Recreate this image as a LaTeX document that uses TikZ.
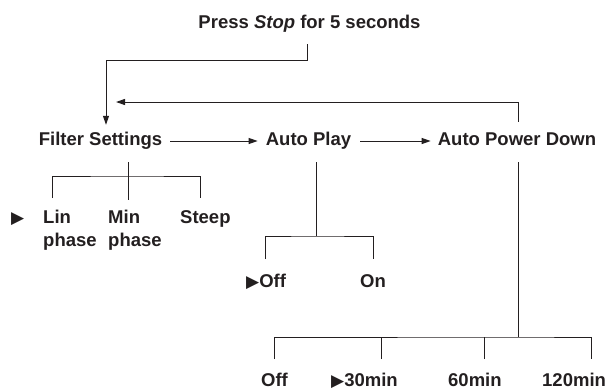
\documentclass[tikz,border=0pt]{standalone}
\usepackage{fontspec}
\setmainfont{Liberation Sans}
\newfontfamily\symfont{DejaVu Sans}
\usetikzlibrary{arrows.meta}
\definecolor{ink}{HTML}{231F20}
\newcommand{\curmark}{{\symfont\fontsize{17}{17}\selectfont ▶}}
\begin{document}
\begin{tikzpicture}[x=1pt,y=-1pt,
  every node/.style={text=ink},
  lbl/.style={font=\fontsize{18.5}{23}\selectfont\bfseries, inner sep=0pt, text height=13pt, text depth=5pt},
  ml/.style={font=\fontsize{18.5}{23}\selectfont\bfseries, inner sep=0pt, align=left, anchor=north west},
  cur/.style={inner sep=0pt},
  conn/.style={draw=ink, line width=1pt},
  arr/.style={conn, -{Triangle[length=9pt,width=6pt]}}]
\useasboundingbox (0,0) rectangle (614,389);

% top level
\node[lbl, anchor=base] (press) at (309.5,28) {Press \textit{Stop} for 5 seconds};
\node[lbl, anchor=base] (filter) at (100.5,145) {Filter Settings};
\node[lbl, anchor=base] (autoplay) at (308.5,145) {Auto Play};
\node[lbl, anchor=base] (apd) at (517,145) {Auto Power Down};

% main arrows
\coordinate (pb) at (106,60);
\draw[arr, shorten >=7pt] (press.south) ++(-2.5,11) |- (pb) -- (pb |- filter.north);
\coordinate (rt) at (116,102);
\draw[arr] (apd.north) ++(1,-10) |- (rt);
\draw[arr, shorten <=8pt, shorten >=8pt] (filter) -- (autoplay);
\draw[arr, shorten <=9pt, shorten >=7pt] (autoplay) -- (apd);

% filter settings options
\node[cur, anchor=base west] (cur1) at (11,223) {\curmark};
\node[ml] (lin) at (43,210) {Lin\\phase};
\node[ml] (min) at (108,210) {Min\\phase};
\node[lbl, anchor=base west] (steep) at (180,223) {Steep};
\coordinate (fj) at (128,176);
\coordinate (f1) at (52,198);
\coordinate (f3) at (200,198);
\draw[conn, shorten <=12pt, shorten >=10pt] (fj |- filter.south) -- (fj |- min.north);
\draw[conn] (f1) |- (fj) -| (f3);

% auto play options
\coordinate (aj) at (316,236);
\coordinate (a1) at (265,259);
\coordinate (a2) at (373,259);
\draw[conn, shorten <=12pt] (aj |- autoplay.south) -- (aj);
\draw[conn] (a1) |- (aj) -| (a2);
\node[lbl, anchor=base west] (off1) at (246,287) {\curmark Off};
\node[lbl, anchor=base] (on) at (373,287) {On};

% auto power down options
\coordinate (pj) at (518,337);
\coordinate (p1) at (274,359);
\coordinate (p2) at (381,359);
\coordinate (p3) at (484,359);
\coordinate (p4) at (591,359);
\draw[conn, shorten <=12pt] (pj |- apd.south) -- (pj);
\draw[conn] (p1) |- (pj) -| (p4);
\draw[conn] (p2) -- (p2 |- pj);
\draw[conn] (p3) -- (p3 |- pj);
\node[lbl, anchor=base] (off2) at (274.5,386) {Off};
\node[lbl, anchor=base west] (m30) at (331,386) {\curmark 30min};
\node[lbl, anchor=base west] (m60) at (448,386) {60min};
\node[lbl, anchor=base west] (m120) at (542,386) {120min};
\end{tikzpicture}
\end{document}
